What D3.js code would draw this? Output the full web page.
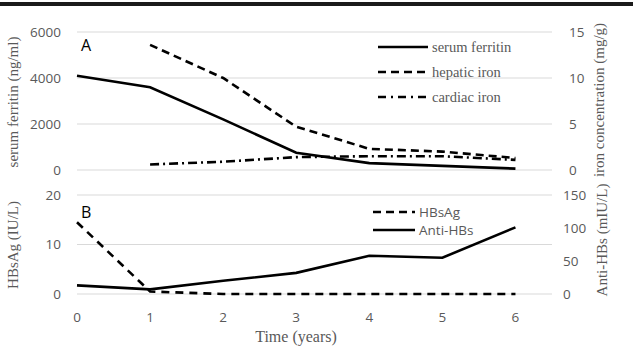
<!DOCTYPE html>
<html>
<head>
<meta charset="utf-8">
<script src="https://d3js.org/d3.v7.min.js"></script>
<style>
  body { margin: 0; background: #fff; }
  .tick-lbl { font-family: "Open Sans", "Liberation Sans", sans-serif; font-size: 13.5px; fill: #595959; }
  .serif { font-family: "Liberation Serif", "DejaVu Serif", serif; fill: #595959; }
</style>
</head>
<body>
<script>
// years
const years = [0, 1, 2, 3, 4, 5, 6];

// panel A
const ferritin = [4100, 3600, 2200, 750, 300, 180, 60];      // ng/ml, left axis
const hepaticYears = [1, 2, 3, 4, 5, 6];
const hepaticIron = [13.6, 10.0, 4.7, 2.3, 2.0, 1.3];        // mg/g, right axis
const cardiacYears = [1, 2, 3, 4, 5, 6];
const cardiacIron = [0.6, 0.9, 1.4, 1.5, 1.5, 1.1];          // mg/g, right axis
const ferritinTicks = [0, 2000, 4000, 6000];
const ironTicks = [0, 5, 10, 15];

// panel B
const hbsag = [14.5, 0.5, 0, 0, 0, 0, 0];                    // IU/L, left axis
const antiHbs = [13, 7, 20, 32, 58, 55, 101];                // mIU/L, right axis
const hbsagTicks = [0, 10, 20];
const antiTicks = [0, 50, 100, 150];

const W = 633, H = 350;
const svg = d3.select("body").append("svg").attr("width", W).attr("height", H);

// top rule
svg.append("rect").attr("x", 0).attr("y", 2).attr("width", W).attr("height", 4).attr("fill", "#1a1a1a");

const x = d3.scaleLinear().domain([0, 6.5]).range([77, 552]);

function grid(g, yScale, ticks) {
    g.selectAll("line.grid").data(ticks).join("line")
        .attr("class", "grid")
        .attr("x1", x(0)).attr("x2", x(6.5))
        .attr("y1", d => yScale(d)).attr("y2", d => yScale(d))
        .attr("stroke", "#d9d9d9").attr("stroke-width", 1);
}

function axisLabels(g, yScale, ticks, xpos, anchor) {
    g.selectAll(null).data(ticks).join("text")
        .attr("class", "tick-lbl")
        .attr("x", xpos).attr("y", d => yScale(d))
        .attr("dy", "0.35em").attr("text-anchor", anchor)
        .text(d => d);
}

function series(g, xs, ys, yScale, dash) {
    const line = d3.line().x((d, i) => x(xs[i])).y(d => yScale(d));
    g.append("path").datum(ys)
        .attr("d", line)
        .attr("fill", "none").attr("stroke", "#000")
        .attr("stroke-width", 2.6)
        .attr("stroke-dasharray", dash);
}

function vtitle(xpos, ypos, text, size) {
    svg.append("text").attr("class", "serif")
        .attr("transform", `translate(${xpos},${ypos}) rotate(-90)`)
        .attr("text-anchor", "middle").style("font-size", size + "px")
        .text(text);
}

function legend(g, items, x1, x2, y0, dy) {
    items.forEach((it, i) => {
        const yy = y0 + i * dy;
        g.append("line").attr("x1", x1).attr("x2", x2).attr("y1", yy).attr("y2", yy)
            .attr("stroke", "#000").attr("stroke-width", 2.6)
            .attr("stroke-dasharray", it.dash);
        g.append("text").attr("class", it.serif ? "serif" : "tick-lbl")
            .attr("x", x2 + 4).attr("y", yy).attr("dy", "0.35em")
            .style("font-size", it.serif ? "14.5px" : "13.5px")
            .text(it.name);
    });
}

// ---- panel A
const gA = svg.append("g");
const yA = d3.scaleLinear().domain([0, 6000]).range([170, 32]);
const yA2 = d3.scaleLinear().domain([0, 15]).range([170, 32]);
grid(gA, yA, ferritinTicks);
axisLabels(gA, yA, ferritinTicks, 61, "end");
axisLabels(gA, yA2, ironTicks, 569, "start");
series(gA, years, ferritin, yA, null);
series(gA, hepaticYears, hepaticIron, yA2, "8,5");
series(gA, cardiacYears, cardiacIron, yA2, "9,4,2,4");
gA.append("text").attr("x", 81).attr("y", 51).attr("class", "tick-lbl")
    .style("font-size", "16px").style("fill", "#000").text("A");
legend(gA, [
    { name: "serum ferritin", dash: null, serif: true },
    { name: "hepatic iron", dash: "8,5", serif: true },
    { name: "cardiac iron", dash: "8,5,2,5", serif: true }
], 378, 428, 47, 25);
vtitle(18, 102, "serum ferritin (ng/ml)", 15);
vtitle(604, 100, "iron concentration (mg/g)", 15);

// ---- panel B
const gB = svg.append("g");
const yB = d3.scaleLinear().domain([0, 20]).range([294, 195]);
const yB2 = d3.scaleLinear().domain([0, 150]).range([294, 195]);
grid(gB, yB, hbsagTicks);
axisLabels(gB, yB, hbsagTicks, 61, "end");
axisLabels(gB, yB2, antiTicks, 563, "start");
series(gB, years, hbsag, yB, "8,6");
series(gB, years, antiHbs, yB2, null);
gB.append("text").attr("x", 81).attr("y", 218).attr("class", "tick-lbl")
    .style("font-size", "16px").style("fill", "#000").text("B");
legend(gB, [
    { name: "HBsAg", dash: "8,5", serif: false },
    { name: "Anti-HBs", dash: null, serif: false }
], 373, 415, 212, 18);
vtitle(18, 245, "HBsAg (IU/L)", 15);
vtitle(607, 240, "Anti-HBs (mIU/L)", 15);

// x axis labels
svg.append("g").selectAll("text").data(years).join("text")
    .attr("class", "tick-lbl")
    .attr("x", d => x(d)).attr("y", 317).attr("dy", "0.35em")
    .attr("text-anchor", "middle").text(d => d);
svg.append("text").attr("class", "serif")
    .attr("x", 296).attr("y", 336).attr("dy", "0.35em")
    .attr("text-anchor", "middle").style("font-size", "16px")
    .text("Time (years)");
</script>
</body>
</html>
